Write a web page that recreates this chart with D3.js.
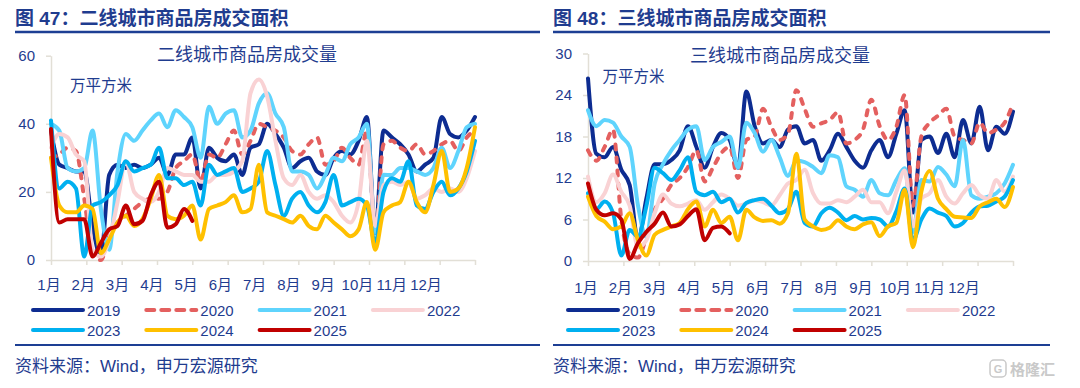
<!DOCTYPE html>
<html>
<head>
<meta charset="utf-8">
<title>二线、三线城市商品房成交面积</title>
<script src="https://cdn.jsdelivr.net/npm/d3@7"></script>
<style>
    body { margin: 0; background: #fff; }
    svg text { font-family: "Liberation Sans", Arial, "Noto Sans CJK SC", sans-serif; }
    .axis path, .axis line { stroke: #e2dfd6; stroke-width: 1.5; }
</style>
</head>
<body>
<svg width="1080" height="388"></svg>
<script>
// categories
const months = ["1月", "2月", "3月", "4月", "5月", "6月", "7月", "8月", "9月", "10月", "11月", "12月"];
const years = ["2019", "2020", "2021", "2022", "2023", "2024", "2025"];

// 二线城市 weekly deals, 万平方米
const tier2_2019 = [38, 28, 27, 26, 26, 10, 1, 25, 28, 27, 28, 27, 28, 30, 25, 31, 31, 36, 21, 33, 30, 29, 31, 25, 33, 34, 40, 37, 33, 27, 29, 30, 26, 25, 30, 32, 31, 35, 42, 8, 38, 36, 34, 31, 26, 28, 30, 42, 37, 36, 38, 42];
const tier2_2020 = [30, 31, 33, 32, 18, 2, 0, 7, 11, 13, 15, 17, 18, 18, 20, 27, 29, 31, 23, 31, 30, 34, 38, 31, 35, 40, 39, 38, 36, 32, 31, 34, 36, 28, 29, 33, 30, 28, 38, 8, 34, 35, 33, 32, 34, 31, 32, 34, 35, 32, 36, 38];
const tier2_2021 = [40, 38, 27, 26, 27, 38, 15, 3, 26, 37, 35, 38, 41, 43, 39, 44, 42, 39, 30, 45, 40, 43, 44, 36, 38, 46, 49, 43, 39, 26, 26, 25, 21, 25, 30, 29, 34, 36, 40, 8, 25, 25, 27, 27, 26, 25, 27, 33, 27, 32, 39, 40];
const tier2_2022 = [33, 37, 36, 31, 29, 3, 1, 6, 17, 29, 20, 18, 17, 20, 27, 26, 25, 25, 23, 23, 25, 25, 26, 29, 49, 53, 48, 35, 24, 22, 25, 20, 18, 19, 17, 13, 11, 17, 35, 10, 22, 23, 22, 23, 18, 19, 21, 20, 21, 20, 24, 32];
const tier2_2023 = [41, 21, 23, 21, 1, 16, 17, 19, 22, 29, 26, 27, 28, 33, 24, 24, 22, 23, 16, 28, 25, 26, 27, 20, 21, 23, 32, 22, 13, 18, 20, 16, 14, 17, 25, 16, 17, 18, 16, 5, 20, 24, 23, 29, 16, 15, 20, 23, 19, 21, 26, 35];
const tier2_2024 = [30, 16, 14, 14, 16, 15, 2, 6, 11, 13, 10, 12, 18, 25, 13, 12, 13, 16, 6, 15, 16, 17, 19, 14, 15, 28, 14, 13, 12, 11, 13, 10, 9, 13, 11, 9, 7, 9, 17, 3, 14, 16, 17, 23, 17, 14, 22, 32, 20, 21, 27, 39];
const tier2_2025 = [38.5, 11, 12, 12, 12, 1, 5, 9, 10, 16, 10.5, 11.5, 19, 23, 9.5, 10.5, 15, 11.5];

// 三线城市 weekly deals, 万平方米
const tier3_2019 = [26.4, 15.5, 15, 16.5, 13.2, 11, 3, 9, 14, 14, 14.6, 16, 19.5, 16.5, 13.5, 16.5, 18.5, 17.5, 13.5, 24.5, 19.5, 17, 17.5, 16.5, 19, 19.5, 17, 17.5, 14.5, 16, 18.4, 16.5, 14.5, 13.5, 16, 17.5, 15, 18.4, 21.8, 7, 17.5, 18, 15.6, 18.4, 15, 20.4, 17, 22.3, 16, 19.4, 18.4, 21.6];
const tier3_2020 = [16, 14.5, 16.5, 19, 6, 1, 0.5, 3.5, 7.4, 9, 11, 12, 13.6, 16, 11.5, 13.5, 15.6, 16.5, 12, 17.5, 18, 22, 19.4, 17.5, 18.4, 24.7, 22, 19.4, 19.9, 20.4, 21.5, 17, 17.5, 19, 23.3, 19.5, 17.5, 19.4, 24, 8, 18, 20, 21, 22, 18, 17.5, 17, 20, 18.5, 19, 20, 22.8];
const tier3_2021 = [21.8, 19.5, 20.4, 20, 18, 16.5, 8, 3.5, 11.2, 14, 16, 17.5, 19, 19.5, 14.6, 16.5, 17.2, 18, 13.5, 20, 18.5, 15.8, 17.5, 15, 12.3, 14.5, 14.3, 13.6, 12.7, 15.3, 15, 10.8, 10.3, 9.3, 11.7, 9.8, 9.5, 11.7, 13.4, 4.2, 11.7, 11.5, 13.6, 12.5, 10.8, 17.5, 9.5, 9, 9.3, 9.8, 11.2, 13.9];
const tier3_2022 = [12.2, 8.5, 9.8, 12.5, 10, 8, 2, 3, 6.9, 9.6, 8.3, 7.9, 8.3, 8.8, 7.4, 8.5, 9.6, 9, 8, 8.3, 8.8, 8.5, 8, 9.5, 11.2, 11.7, 13.2, 9.8, 8.3, 8.3, 8.8, 8.5, 9.3, 10.3, 8.5, 8.5, 6.9, 10, 13.1, 5, 9, 9.8, 11.7, 9.3, 8.3, 9.8, 11, 9.5, 9, 11.7, 10, 12.2];
const tier3_2023 = [9.8, 7.5, 8.6, 7, 0.8, 4.5, 3.5, 7.9, 13.5, 12.7, 11.7, 13.1, 15, 10, 9.5, 10, 8.5, 9, 7, 8.4, 8.8, 9, 8, 6.9, 7.5, 10, 5.5, 5, 6.9, 7.7, 7, 5.9, 6.5, 6, 6.2, 6, 5, 7.2, 10.5, 3, 6, 7.6, 7, 6.5, 5, 5.5, 7, 7.9, 8, 8.6, 9.3, 11.7];
const tier3_2024 = [9.3, 6.5, 5.7, 4.6, 5, 6.9, 3, 0.8, 3.8, 4.5, 5, 5.5, 7.5, 8.6, 5, 7.4, 5.5, 6.4, 3, 7.4, 6.3, 5.8, 5.9, 5.4, 6.9, 15.5, 6, 5, 4.5, 4.8, 5.9, 5, 4.6, 5.3, 5.6, 3.6, 5, 5.5, 10.3, 2, 10, 13, 9, 7.5, 6.4, 6.3, 6.2, 7.9, 8.5, 9, 7.8, 10.7];
const tier3_2025 = [11.2, 7.4, 6.6, 6.9, 6, 0.3, 2.6, 4.2, 5.4, 7, 5, 5.3, 6.5, 7.5, 3, 4.8, 5, 4];

const tier2Series = [tier2_2019, tier2_2020, tier2_2021, tier2_2022, tier2_2023, tier2_2024, tier2_2025];
const tier3Series = [tier3_2019, tier3_2020, tier3_2021, tier3_2022, tier3_2023, tier3_2024, tier3_2025];

const colors = ["#0d2c91", "#e4605f", "#5fd4fd", "#f9d2d4", "#00b0f0", "#ffc000", "#c00000"];
const textColor = "#1f3c8f";
const ruleColor = "#1d3f94";

const svg = d3.select("svg");

function drawPanel(p) {
    const g = svg.append("g");

    // header + rules
    g.append("text")
        .attr("x", p.left).attr("y", 18)
        .attr("dominant-baseline", "central")
        .attr("font-size", 19).attr("font-weight", "bold")
        .attr("fill", textColor)
        .text(p.title);
    g.append("line")
        .attr("x1", p.left).attr("x2", p.right)
        .attr("y1", 32).attr("y2", 32)
        .attr("stroke", ruleColor).attr("stroke-width", 2.5);
    g.append("line")
        .attr("x1", p.left).attr("x2", p.right)
        .attr("y1", 345).attr("y2", 345)
        .attr("stroke", ruleColor).attr("stroke-width", 2);
    g.append("text")
        .attr("x", p.left).attr("y", 366)
        .attr("dominant-baseline", "central")
        .attr("font-size", 17)
        .attr("fill", textColor)
        .text("资料来源：Wind，申万宏源研究");

    const x = d3.scaleLinear().domain([0, 51]).range([p.x0, p.x1]);
    const xm = d3.scaleLinear().domain([0, 12]).range([p.x0, p.x1]);
    const y = d3.scaleLinear().domain([0, p.ymax]).range([p.y0, p.y1]);

    const yAxis = g.append("g")
        .attr("class", "axis")
        .attr("transform", `translate(${p.x0},0)`)
        .call(d3.axisLeft(y).tickValues(p.yTicks).tickSize(5).tickSizeOuter(0).tickPadding(11));
    yAxis.attr("font-family", null).attr("font-size", null);
    yAxis.selectAll("text").attr("font-size", 15).attr("fill", textColor);

    g.append("g")
        .attr("class", "axis")
        .attr("transform", `translate(0,${p.y0})`)
        .call(d3.axisBottom(xm).tickValues(d3.range(13)).tickSize(5).tickSizeOuter(0).tickFormat(""));

    const xl = d3.scalePoint().domain(months).range(p.monthRange);
    g.selectAll(".month").data(months).join("text")
        .attr("class", "month")
        .attr("x", d => xl(d)).attr("y", p.monthY)
        .attr("text-anchor", "middle")
        .attr("dominant-baseline", "central")
        .attr("font-size", 15)
        .attr("fill", textColor)
        .text(d => d);

    // chart caption and unit
    g.append("text")
        .attr("x", p.capX).attr("y", p.capY)
        .attr("text-anchor", "middle").attr("dominant-baseline", "central")
        .attr("font-size", 18).attr("fill", textColor)
        .text(p.caption);
    g.append("text")
        .attr("x", p.unitX).attr("y", p.unitY)
        .attr("text-anchor", "middle").attr("dominant-baseline", "central")
        .attr("font-size", 15.5).attr("fill", textColor)
        .text("万平方米");

    const line = d3.line()
        .x((d, i) => x(i))
        .y(d => y(d))
        .curve(d3.curveMonotoneX);

    p.series.forEach((s, k) => {
        g.append("path")
            .datum(s)
            .attr("fill", "none")
            .attr("stroke", colors[k])
            .attr("stroke-width", 4)
            .attr("stroke-linejoin", "round")
            .attr("stroke-linecap", "round")
            .attr("stroke-dasharray", k === 1 ? "5,8" : null)
            .attr("d", line);
    });

    // legend
    years.forEach((yr, k) => {
        const lx = p.legendX + (k % 4) * 113.3;
        const ly = 310 + Math.floor(k / 4) * 20;
        g.append("line")
            .attr("x1", lx).attr("x2", lx + 50)
            .attr("y1", ly).attr("y2", ly)
            .attr("stroke", colors[k])
            .attr("stroke-width", 4)
            .attr("stroke-linecap", "round")
            .attr("stroke-dasharray", k === 1 ? "8,7" : null);
        g.append("text")
            .attr("x", lx + 54).attr("y", ly)
            .attr("dominant-baseline", "central")
            .attr("font-size", 15)
            .attr("fill", textColor)
            .text(yr);
    });
}

drawPanel({
    title: "图 47：二线城市商品房成交面积",
    caption: "二线城市商品房成交量",
    left: 15, right: 540,
    x0: 51, x1: 475, y0: 260, y1: 55.7,
    ymax: 60, yTicks: [0, 20, 40, 60],
    monthRange: [49, 426], monthY: 284.5,
    capX: 247, capY: 55, unitX: 101, unitY: 85,
    legendX: 33,
    series: tier2Series
});

drawPanel({
    title: "图 48：三线城市商品房成交面积",
    caption: "三线城市商品房成交量",
    left: 553, right: 1050,
    x0: 588, x1: 1013, y0: 261, y1: 53.5,
    ymax: 30, yTicks: [0, 6, 12, 18, 24, 30],
    monthRange: [586, 964], monthY: 287.5,
    capX: 780, capY: 56, unitX: 633.5, unitY: 76,
    legendX: 568,
    series: tier3Series
});

// watermark
const wm = svg.append("g").attr("fill", "none");
wm.append("rect")
    .attr("x", 990).attr("y", 360).attr("width", 16).attr("height", 17).attr("rx", 4)
    .attr("stroke", "#c9c9c9").attr("stroke-width", 1.5);
wm.append("text")
    .attr("x", 998).attr("y", 369)
    .attr("text-anchor", "middle").attr("dominant-baseline", "central")
    .attr("font-size", 11).attr("font-weight", "bold").attr("fill", "#c9c9c9")
    .text("G");
wm.append("text")
    .attr("x", 1010).attr("y", 369)
    .attr("dominant-baseline", "central")
    .attr("font-size", 15).attr("font-weight", "bold").attr("fill", "#c9c9c9")
    .text("格隆汇");
</script>
</body>
</html>
